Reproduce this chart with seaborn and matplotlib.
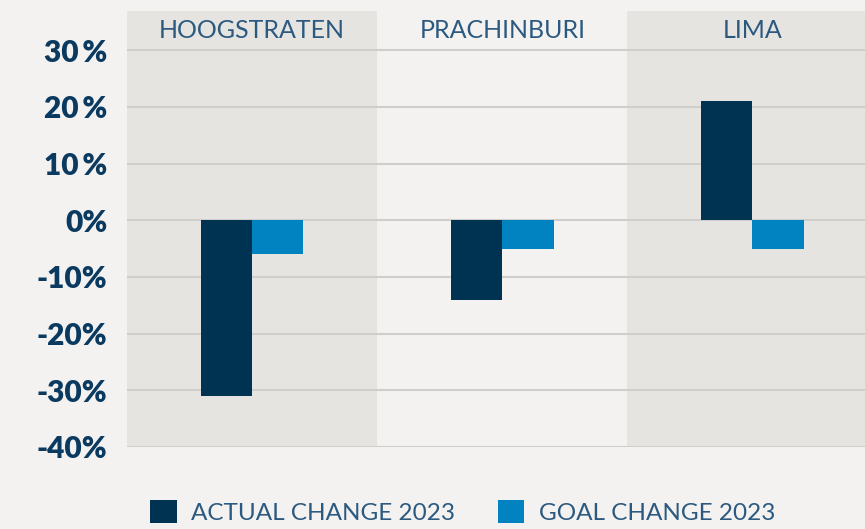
import matplotlib
matplotlib.use("Agg")
import matplotlib.pyplot as plt
import matplotlib.patches as mpatches
import matplotlib.transforms as mtransforms
import pandas as pd
import seaborn as sns

# Site-level change figures (percent)
sites = ["HOOGSTRATEN", "PRACHINBURI", "LIMA"]
actual_change = [-31, -14, 21]
goal_change = [-6, -5, -5]
series_names = ["ACTUAL CHANGE 2023", "GOAL CHANGE 2023"]
y_ticks = [30, 20, 10, 0, -10, -20, -30, -40]
y_tick_labels = ["30\u2009%", "20\u2009%", "10\u2009%", "0%", "-10%", "-20%", "-30%", "-40%"]

BG = "#f3f2f0"
BAND = "#e5e4e0"
GRID = "#cfcecb"
NAVY = "#003352"
BLUE = "#0083c0"
LABEL = "#0b3a60"
LIGHT_TEXT = "#2c5980"

df = pd.DataFrame({
    "site": sites * 2,
    "series": [series_names[0]] * len(sites) + [series_names[1]] * len(sites),
    "value": actual_change + goal_change,
})

sns.set_theme(style="white")
plt.rcParams["font.family"] = ["Lato", "DejaVu Sans"]

fig = plt.figure(figsize=(8.65, 5.29), dpi=100, facecolor=BG)
ax = fig.add_axes([127 / 865, 1 - 447 / 529, 1 - 127 / 865, (447 - 11) / 529])
ax.set_facecolor(BG)

# alternating shaded bands behind each site
for i, _ in enumerate(sites):
    if i % 2 == 0:
        ax.axvspan(i - 0.5, i + 0.5, color=BAND, zorder=0, lw=0)

sns.barplot(
    data=df, x="site", y="value", hue="series", order=sites,
    hue_order=series_names, palette=[NAVY, BLUE], width=0.41, gap=0,
    linewidth=0, saturation=1, ax=ax, legend=False, zorder=3,
)

ax.set_xlim(-0.5, 2.45)
ax.set_ylim(-40, 36.9)
ax.set_yticks(y_ticks)
ax.set_yticklabels(y_tick_labels)
ax.set_xticks([])
ax.set_xlabel("")
ax.set_ylabel("")
for y in y_ticks:
    ax.axhline(y, color=GRID, lw=1.5, zorder=1)
for s in ax.spines.values():
    s.set_visible(False)
ax.tick_params(axis="y", length=0, pad=14, labelsize=21.5, labelcolor=LABEL)
for t in ax.get_yticklabels():
    t.set_fontweight("heavy")

trans = mtransforms.blended_transform_factory(ax.transData, ax.transAxes)
for i, name in enumerate(sites):
    ax.text(i, 1 - 20 / 436, name, transform=trans, ha="center", va="center",
            fontsize=18, fontweight="normal", color=LIGHT_TEXT)

handles = [mpatches.Patch(color=NAVY, lw=0), mpatches.Patch(color=BLUE, lw=0)]
fig.legend(handles, series_names, loc="upper left",
           bbox_to_anchor=(128 / 865, 1 - 478 / 529), ncol=2, frameon=False,
           handlelength=1.1, handleheight=1.1, handletextpad=0.6,
           columnspacing=1.75, prop={"size": 17.5, "weight": "normal"},
           labelcolor=LIGHT_TEXT)

fig.savefig("out.png", dpi=100, facecolor=BG)
